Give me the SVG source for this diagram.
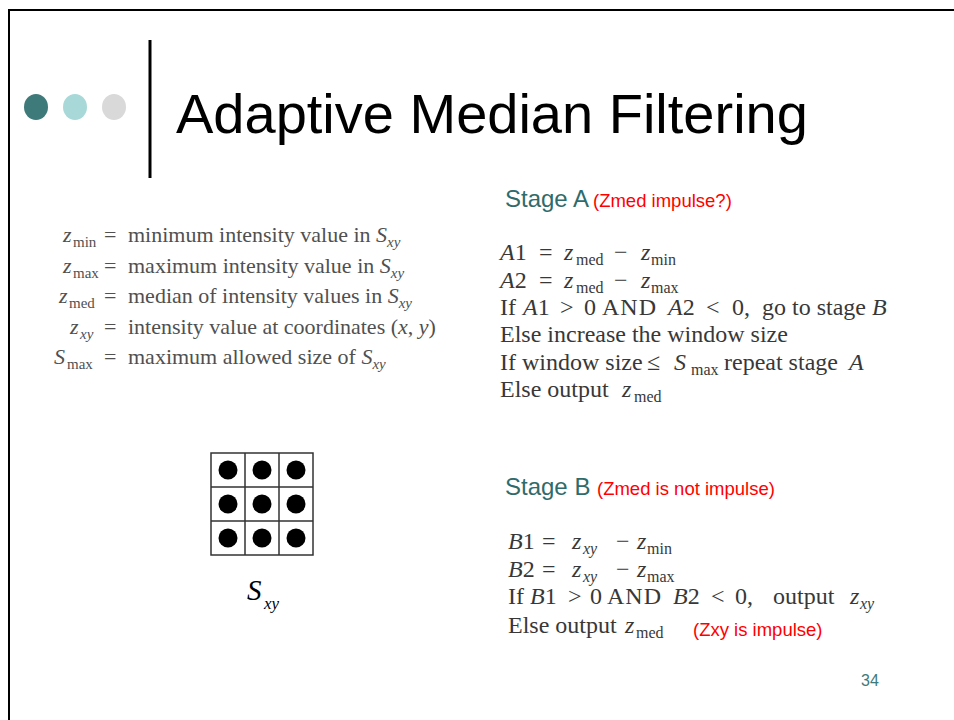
<svg xmlns="http://www.w3.org/2000/svg" width="954" height="720" viewBox="0 0 954 720">
<style>
.t{font-family:"Liberation Serif","Times New Roman",serif;fill:#383838;font-size:24px}
.d{font-family:"Liberation Serif","Times New Roman",serif;fill:#505050;font-size:22px}
.i{font-style:italic}
.s{font-size:16px}
.ds{font-size:15px}
.w{letter-spacing:1px}
.h{font-family:"Liberation Sans",Arial,sans-serif;fill:#2f6b6b;font-size:24px}
.r{font-family:"Liberation Sans",Arial,sans-serif;fill:#ff0000;font-size:18.5px}
</style>
<rect width="954" height="720" fill="#ffffff"/>
<g id="frame">
<path d="M9,720 V10 H954" fill="none" stroke="#000" stroke-width="2"/>
</g>
<g id="header">
<ellipse cx="36" cy="107" rx="12" ry="13" fill="#3f7a7a"/>
<ellipse cx="75" cy="107" rx="12" ry="13" fill="#a8d8d8"/>
<ellipse cx="114" cy="107" rx="12" ry="13" fill="#d9d9d9"/>
<line x1="150" y1="40" x2="150" y2="178" stroke="#000" stroke-width="3"/>
<text x="176" y="133" font-family="'Liberation Sans',Arial,sans-serif" font-size="56" fill="#000">Adaptive Median Filtering</text>
</g>
<g id="definitions">
<text class="d"><tspan class="i" x="63" y="242">z</tspan><tspan class="ds" x="73" y="247">min</tspan><tspan x="104" y="242">=</tspan><tspan x="128">minimum intensity value in </tspan><tspan class="i">S</tspan><tspan class="i ds" y="247">xy</tspan></text>
<text class="d"><tspan class="i" x="63" y="273">z</tspan><tspan class="ds" x="73" y="278">max</tspan><tspan x="104" y="273">=</tspan><tspan x="128">maximum intensity value in </tspan><tspan class="i">S</tspan><tspan class="i ds" y="278">xy</tspan></text>
<text class="d"><tspan class="i" x="59" y="303">z</tspan><tspan class="ds" x="69" y="308">med</tspan><tspan x="104" y="303">=</tspan><tspan x="128">median of intensity values in </tspan><tspan class="i">S</tspan><tspan class="i ds" y="308">xy</tspan></text>
<text class="d"><tspan class="i" x="70" y="334">z</tspan><tspan class="i ds" x="80" y="339">xy</tspan><tspan x="104" y="334">=</tspan><tspan x="128">intensity value at coordinates (</tspan><tspan class="i">x</tspan><tspan>, </tspan><tspan class="i">y</tspan><tspan>)</tspan></text>
<text class="d"><tspan class="i" x="54" y="364">S</tspan><tspan class="ds" x="67" y="369">max</tspan><tspan x="104" y="364">=</tspan><tspan x="128">maximum allowed size of </tspan><tspan class="i">S</tspan><tspan class="i ds" y="369">xy</tspan></text>
</g>
<g id="stageA">
<text class="h" x="505" y="207">Stage A</text>
<text class="r" x="593" y="207">(Zmed impulse?)</text>
<text class="t"><tspan class="i" x="500" y="260">A</tspan><tspan>1</tspan><tspan x="539">=</tspan><tspan class="i" x="564">z</tspan><tspan class="s" x="576" y="265">med</tspan><tspan x="614" y="260">−</tspan><tspan class="i" x="641">z</tspan><tspan class="s" x="651" y="265">min</tspan></text>
<text class="t"><tspan class="i" x="500" y="288">A</tspan><tspan>2</tspan><tspan x="539">=</tspan><tspan class="i" x="564">z</tspan><tspan class="s" x="576" y="293">med</tspan><tspan x="614" y="288">−</tspan><tspan class="i" x="641">z</tspan><tspan class="s" x="651" y="293">max</tspan></text>
<text class="t" y="315"><tspan x="500">If</tspan><tspan class="i" x="523">A</tspan><tspan>1</tspan><tspan x="560">&gt;</tspan><tspan x="584">0</tspan><tspan class="w" x="602">AND</tspan><tspan class="i" x="668">A</tspan><tspan>2</tspan><tspan x="706">&lt;</tspan><tspan x="732">0,</tspan><tspan x="762">go to stage</tspan><tspan class="i" x="872">B</tspan></text>
<text class="t" x="500" y="342">Else increase the window size</text>
<text class="t"><tspan x="500" y="370">If window size</tspan><tspan x="647">≤</tspan><tspan class="i" x="674">S</tspan><tspan class="s" x="691" y="375">max</tspan><tspan x="724" y="370">repeat stage</tspan><tspan class="i" x="849">A</tspan></text>
<text class="t"><tspan x="500" y="397">Else output</tspan><tspan class="i" x="622">z</tspan><tspan class="s" x="634" y="402">med</tspan></text>
</g>
<g id="window">
<rect x="211" y="453" width="102" height="102" fill="#fff" stroke="#333" stroke-width="1.5"/>
<path d="M245,453 V555 M279,453 V555 M211,487 H313 M211,521 H313" stroke="#333" stroke-width="1.5"/>
<g fill="#000">
<circle cx="228" cy="470" r="9.5"/><circle cx="262" cy="470" r="9.5"/><circle cx="296" cy="470" r="9.5"/>
<circle cx="228" cy="504" r="9.5"/><circle cx="262" cy="504" r="9.5"/><circle cx="296" cy="504" r="9.5"/>
<circle cx="228" cy="538" r="9.5"/><circle cx="262" cy="538" r="9.5"/><circle cx="296" cy="538" r="9.5"/>
</g>
<text font-family="'Liberation Serif','Times New Roman',serif" font-style="italic" fill="#000"><tspan x="247" y="600" font-size="29">S</tspan><tspan x="264" y="609" font-size="17">xy</tspan></text>
</g>
<g id="stageB">
<text class="h" x="505" y="495">Stage B</text>
<text class="r" x="597" y="495">(Zmed is not impulse)</text>
<text class="t"><tspan class="i" x="508" y="549">B</tspan><tspan>1</tspan><tspan x="542">=</tspan><tspan class="i" x="572">z</tspan><tspan class="i s" x="583" y="554">xy</tspan><tspan x="616" y="549">−</tspan><tspan class="i" x="637">z</tspan><tspan class="s" x="647" y="554">min</tspan></text>
<text class="t"><tspan class="i" x="508" y="577">B</tspan><tspan>2</tspan><tspan x="542">=</tspan><tspan class="i" x="572">z</tspan><tspan class="i s" x="583" y="582">xy</tspan><tspan x="616" y="577">−</tspan><tspan class="i" x="637">z</tspan><tspan class="s" x="647" y="582">max</tspan></text>
<text class="t" y="604"><tspan x="508">If</tspan><tspan class="i" x="530">B</tspan><tspan>1</tspan><tspan x="568">&gt;</tspan><tspan x="590">0</tspan><tspan class="w" x="607">AND</tspan><tspan class="i" x="673">B</tspan><tspan>2</tspan><tspan x="711">&lt;</tspan><tspan x="735">0,</tspan><tspan x="773">output</tspan><tspan class="i" x="850">z</tspan><tspan class="i s" x="860" y="609">xy</tspan></text>
<text class="t"><tspan x="508" y="633">Else output</tspan><tspan class="i" x="625">z</tspan><tspan class="s" x="636" y="638">med</tspan></text>
<text class="r" x="693" y="636">(Zxy is impulse)</text>
</g>
<g id="footer">
<text x="861" y="686" font-family="'Liberation Sans',Arial,sans-serif" font-size="16" fill="#3f7a7a">34</text>
</g>
</svg>
